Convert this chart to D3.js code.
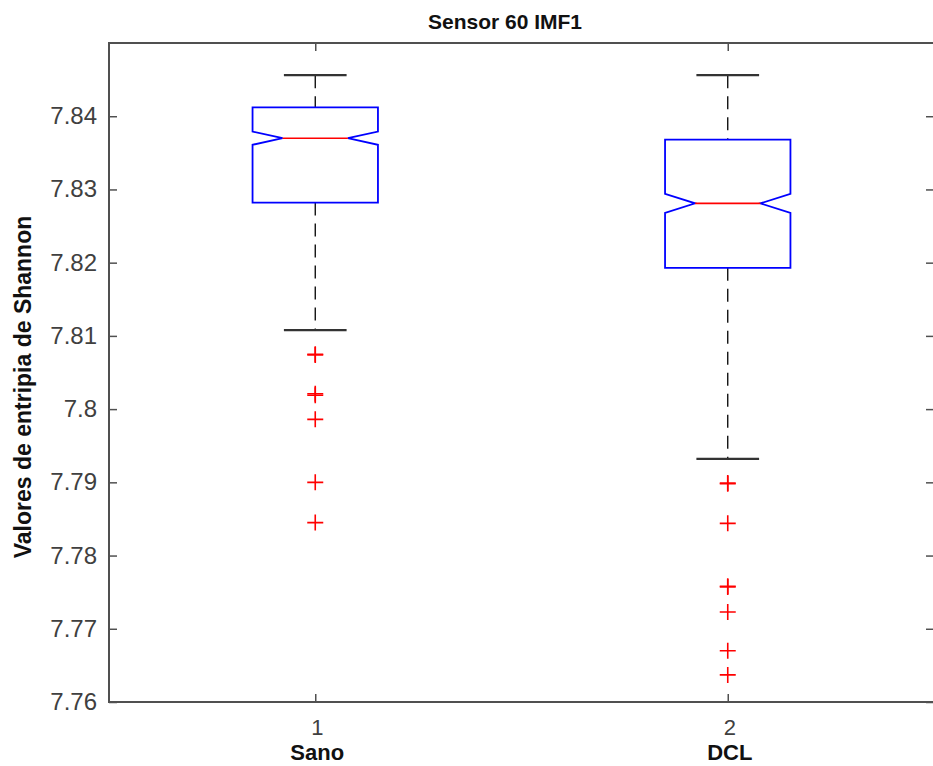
<!DOCTYPE html>
<html>
<head>
<meta charset="utf-8">
<script src="https://cdn.jsdelivr.net/npm/d3@7"></script>
<style>
  body { margin: 0; background: #fff; }
  text { font-family: Arial, "Liberation Sans", sans-serif; }
</style>
</head>
<body>
<div id="chart"></div>
<script>
// data
var groups = ["Sano", "DCL"];
var groupTicks = ["1", "2"];
var whiskerHi = [7.8456, 7.8456];
var q3 = [7.8412, 7.8368];
var medians = [7.8370, 7.8281];
var q1 = [7.8282, 7.8193];
var whiskerLo = [7.8108, 7.7932];
var notchLo = [7.8361, 7.8268];
var notchHi = [7.8379, 7.8294];
var outliersSano = [7.8075, 7.8074, 7.8021, 7.8019, 7.7986, 7.7900, 7.7845];
var outliersDCL = [7.7899, 7.7898, 7.7844, 7.7758, 7.7757, 7.7723, 7.7670, 7.7637];
var yTicks = [7.76, 7.77, 7.78, 7.79, 7.80, 7.81, 7.82, 7.83, 7.84];
var yTickLabels = ["7.76", "7.77", "7.78", "7.79", "7.8", "7.81", "7.82", "7.83", "7.84"];

var width = 933,
    height = 766,
    plot = { left: 109, right: 934, top: 43, bottom: 702 };

var x = d3.scaleLinear().domain([0.5, 2.5]).range([plot.left, plot.right]);
var y = d3.scaleLinear().domain([7.76, 7.85]).range([plot.bottom, plot.top]);

var svg = d3.select("#chart").append("svg")
    .attr("width", width)
    .attr("height", height);

var axisColor = "#505050";

// boxes
var boxHalf = 0.152,
    capHalf = 0.076,
    notchIn = 0.24;

groups.forEach(function (g, i) {
    var c = i + 1;
    var xl = x(c - boxHalf), xr = x(c + boxHalf);
    var inset = (xr - xl) * notchIn;

    // dashed whiskers
    svg.append("line")
        .attr("x1", x(c)).attr("x2", x(c))
        .attr("y1", y(whiskerHi[i])).attr("y2", y(q3[i]))
        .attr("stroke", "#000").attr("stroke-width", 1.3)
        .attr("stroke-dasharray", "13,8");
    svg.append("line")
        .attr("x1", x(c)).attr("x2", x(c))
        .attr("y1", y(q1[i])).attr("y2", y(whiskerLo[i]))
        .attr("stroke", "#000").attr("stroke-width", 1.3)
        .attr("stroke-dasharray", "13,8");

    // caps
    [whiskerHi[i], whiskerLo[i]].forEach(function (v) {
        svg.append("line")
            .attr("x1", x(c - capHalf)).attr("x2", x(c + capHalf))
            .attr("y1", y(v)).attr("y2", y(v))
            .attr("stroke", "#333").attr("stroke-width", 2.2);
    });

    // notched box outline
    var pts = [
        [xl, y(q3[i])], [xr, y(q3[i])], [xr, y(notchHi[i])],
        [xr - inset, y(medians[i])], [xr, y(notchLo[i])], [xr, y(q1[i])],
        [xl, y(q1[i])], [xl, y(notchLo[i])], [xl + inset, y(medians[i])],
        [xl, y(notchHi[i])]
    ];
    svg.append("path")
        .attr("d", d3.line()(pts) + "Z")
        .attr("fill", "none")
        .attr("stroke", "#0000ff")
        .attr("stroke-width", 1.8);

    // median
    svg.append("line")
        .attr("x1", xl + inset).attr("x2", xr - inset)
        .attr("y1", y(medians[i])).attr("y2", y(medians[i]))
        .attr("stroke", "#ff0000").attr("stroke-width", 1.6);
});

// outliers as red plus signs
var outliers = [outliersSano, outliersDCL];
outliers.forEach(function (arr, i) {
    svg.selectAll(".out" + i)
        .data(arr)
        .enter().append("path")
        .attr("class", "out" + i)
        .attr("d", function (d) {
            var cx = x(i + 1), cy = y(d), s = 8;
            return "M" + (cx - s) + "," + cy + "H" + (cx + s) + "M" + cx + "," + (cy - s) + "V" + (cy + s);
        })
        .attr("stroke", "#ff0000")
        .attr("stroke-width", 1.6)
        .attr("fill", "none");
});

// axes frame
svg.append("rect")
    .attr("x", plot.left).attr("y", plot.top)
    .attr("width", plot.right - plot.left)
    .attr("height", plot.bottom - plot.top)
    .attr("fill", "none")
    .attr("stroke", axisColor)
    .attr("stroke-width", 2);

// y axis, ticks pointing inward
var yAxis = svg.append("g")
    .attr("transform", "translate(" + plot.left + ",0)")
    .call(d3.axisRight(y).tickValues(yTicks).tickSize(8).tickFormat(""));
yAxis.select(".domain").remove();
yAxis.selectAll(".tick line").attr("stroke", axisColor).attr("stroke-width", 1.5);

var yAxisR = svg.append("g")
    .attr("transform", "translate(" + plot.right + ",0)")
    .call(d3.axisLeft(y).tickValues(yTicks).tickSize(8).tickFormat(""));
yAxisR.select(".domain").remove();
yAxisR.selectAll(".tick line").attr("stroke", axisColor).attr("stroke-width", 1.5);

svg.selectAll(".ylab")
    .data(yTicks)
    .enter().append("text")
    .attr("class", "ylab")
    .attr("x", plot.left - 12)
    .attr("y", function (d) { return y(d) + 8; })
    .attr("text-anchor", "end")
    .attr("font-size", 24)
    .attr("fill", "#404040")
    .text(function (d, i) { return yTickLabels[i]; });

// x axis ticks, bottom and top
var xAxis = svg.append("g")
    .attr("transform", "translate(0," + plot.bottom + ")")
    .call(d3.axisTop(x).tickValues([1, 2]).tickSize(8).tickFormat(""));
xAxis.select(".domain").remove();
xAxis.selectAll(".tick line").attr("stroke", axisColor).attr("stroke-width", 1.5);

var xAxisT = svg.append("g")
    .attr("transform", "translate(0," + plot.top + ")")
    .call(d3.axisBottom(x).tickValues([1, 2]).tickSize(8).tickFormat(""));
xAxisT.select(".domain").remove();
xAxisT.selectAll(".tick line").attr("stroke", axisColor).attr("stroke-width", 1.5);

groups.forEach(function (g, i) {
    svg.append("text")
        .attr("x", x(i + 1) + 2)
        .attr("y", 735)
        .attr("text-anchor", "middle")
        .attr("font-size", 22)
        .attr("fill", "#404040")
        .text(groupTicks[i]);
    svg.append("text")
        .attr("x", x(i + 1) + 2)
        .attr("y", 760)
        .attr("text-anchor", "middle")
        .attr("font-size", 22)
        .attr("font-weight", "bold")
        .attr("fill", "#111")
        .text(g);
});

// title
svg.append("text")
    .attr("x", 505)
    .attr("y", 29)
    .attr("text-anchor", "middle")
    .attr("font-size", 21)
    .attr("font-weight", "bold")
    .attr("fill", "#111")
    .text("Sensor 60 IMF1");

// y label
svg.append("text")
    .attr("transform", "translate(31," + 387 + ") rotate(-90)")
    .attr("text-anchor", "middle")
    .attr("font-size", 23)
    .attr("font-weight", "bold")
    .attr("fill", "#111")
    .text("Valores de entripia de Shannon");
</script>
</body>
</html>
